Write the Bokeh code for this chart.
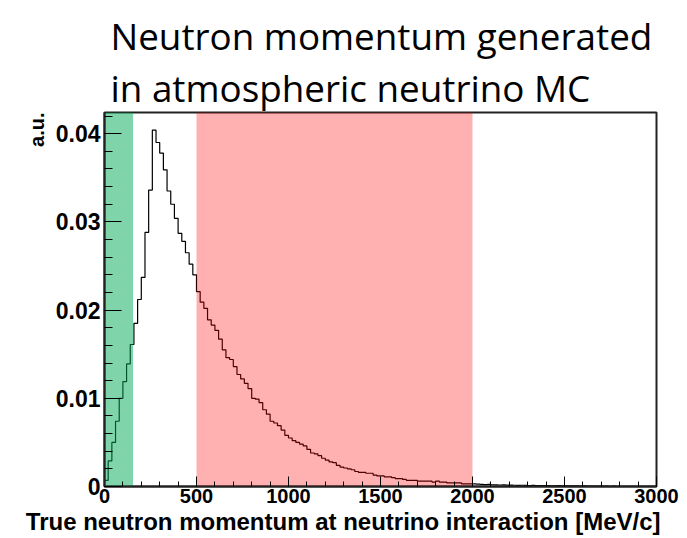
import numpy as np
from bokeh.plotting import figure
from bokeh.models import FixedTicker, Range1d, Title
from bokeh.embed import file_html
from bokeh.resources import INLINE

# Normalised neutron momentum distribution, 20 MeV/c bins from 0 to 3000 MeV/c
bin_width = 20
neutron_frac = [
    0.0007, 0.0029, 0.0050, 0.0074, 0.0100, 0.0119, 0.0139, 0.0161, 0.0185, 0.0212,
    0.0237, 0.0288, 0.0336, 0.0404, 0.0390, 0.0378, 0.0359, 0.0335, 0.0320, 0.0304,
    0.0287, 0.0278, 0.0265, 0.0252, 0.0240, 0.0221, 0.0209, 0.0202, 0.0189, 0.0183,
    0.0177, 0.0167, 0.0155, 0.0146, 0.0144, 0.0136, 0.0127, 0.0122, 0.0117, 0.0111,
    0.0100, 0.0099, 0.0095, 0.0087, 0.0082, 0.0074, 0.0072, 0.0069, 0.0064, 0.0058,
    0.0055, 0.0052, 0.0050, 0.0048, 0.0046, 0.0042, 0.0038, 0.0037, 0.0035, 0.0032,
    0.0030, 0.0028, 0.0027, 0.0024, 0.0022, 0.0021, 0.0020, 0.0019, 0.0017, 0.0016,
    0.0016, 0.0015, 0.0015, 0.0013, 0.0012, 0.0012, 0.0011, 0.0011, 0.0010, 0.0009,
    0.0009, 0.0008, 0.0007, 0.0007, 0.0007, 0.0006, 0.0006, 0.0006, 0.0006, 0.0005,
    0.0006, 0.0005, 0.0005, 0.0004, 0.0004, 0.0004, 0.0004, 0.0003, 0.0003, 0.0003,
    0.00030, 0.00028, 0.00025, 0.00022, 0.00024, 0.00020, 0.00019, 0.00017, 0.00018, 0.00015,
    0.00016, 0.00014, 0.00013, 0.00014, 0.00012, 0.00011, 0.00012, 0.00010, 0.00010, 0.00009,
    0.00010, 0.00008, 0.00008, 0.00009, 0.00007, 0.00007, 0.00006, 0.00007, 0.00006, 0.00005,
    0.00006, 0.00005, 0.00005, 0.00004, 0.00005, 0.00004, 0.00004, 0.00003, 0.00004, 0.00003,
    0.00003, 0.00003, 0.00002, 0.00003, 0.00002, 0.00002, 0.00003, 0.00002, 0.00002, 0.00002,
]

# Highlighted momentum bands [MeV/c]
band_left = [0, 500]
band_right = [155, 2000]
band_colors = ["#00aa55", "#ff0000"]
band_alphas = [0.5, 0.31]

x_major = [0, 500, 1000, 1500, 2000, 2500, 3000]
x_minor = list(range(0, 3001, 100))
y_major = [0.0, 0.01, 0.02, 0.03, 0.04]
y_major_labels = ["0", "0.01", "0.02", "0.03", "0.04"]
y_minor = [0.002 * i for i in range(22)]

title_lines = ["Neutron momentum generated", "in atmospheric neutrino MC"]
x_title = "True neutron momentum at neutrino interaction [MeV/c]"
y_title = "a.u."

x_max = 3000
y_max = 0.0424

# Step outline of the histogram
edges = np.arange(len(neutron_frac) + 1) * bin_width
xs = np.repeat(edges, 2)[1:-1]
ys = np.repeat(np.array(neutron_frac), 2)

p = figure(width=687, height=538, output_backend="svg", toolbar_location=None,
           x_range=Range1d(0, x_max), y_range=Range1d(0, y_max),
           min_border_left=104, min_border_right=31, min_border_top=112,
           min_border_bottom=52)
p.background_fill_color = "white"
p.border_fill_color = "white"
p.grid.visible = False
p.outline_line_color = "#222222"
p.outline_line_width = 2

p.line(xs, ys, line_color="black", line_width=1.2)

p.quad(left=band_left, right=band_right, bottom=0, top=y_max,
       fill_color=band_colors, fill_alpha=band_alphas, line_alpha=0)

label_font = "Liberation Sans"

xa = p.xaxis[0]
xa.ticker = FixedTicker(ticks=x_major, minor_ticks=x_minor)
xa.major_tick_in = 10
xa.major_tick_out = 0
xa.minor_tick_in = 5
xa.minor_tick_out = 0
xa.axis_line_width = 2
xa.axis_line_color = "#222222"
xa.major_label_text_font = label_font
xa.major_label_text_font_style = "bold"
xa.major_label_text_font_size = "20px"
xa.major_label_text_color = "black"
xa.major_label_standoff = 2

ya = p.yaxis[0]
ya.ticker = FixedTicker(ticks=y_major, minor_ticks=y_minor)
ya.major_label_overrides = {v: s for v, s in zip(y_major, y_major_labels)}
ya.major_tick_in = 17
ya.major_tick_out = 0
ya.minor_tick_in = 8
ya.minor_tick_out = 0
ya.axis_line_width = 2
ya.axis_line_color = "#222222"
ya.major_label_text_font = label_font
ya.major_label_text_font_style = "bold"
ya.major_label_text_font_size = "23px"
ya.major_label_text_color = "black"
ya.major_label_standoff = 4

# Two-line slide title above the frame (first added sits nearest the frame)
for line in reversed(title_lines):
    p.add_layout(Title(text=line, align="left", offset=6, standoff=0,
                       text_font="Open Sans", text_font_style="normal",
                       text_font_size="36.8px", text_color="black"), "above")

# Axis titles placed at the far ends of the axes
p.add_layout(Title(text=x_title, align="right", offset=-4, standoff=0,
                   text_font=label_font, text_font_style="bold",
                   text_font_size="24px", text_color="black"), "below")
p.add_layout(Title(text=y_title, align="right", offset=0, standoff=10,
                   text_font=label_font, text_font_style="bold",
                   text_font_size="20px", text_color="black"), "left")

open("out.html", "w").write(file_html(p, INLINE))
